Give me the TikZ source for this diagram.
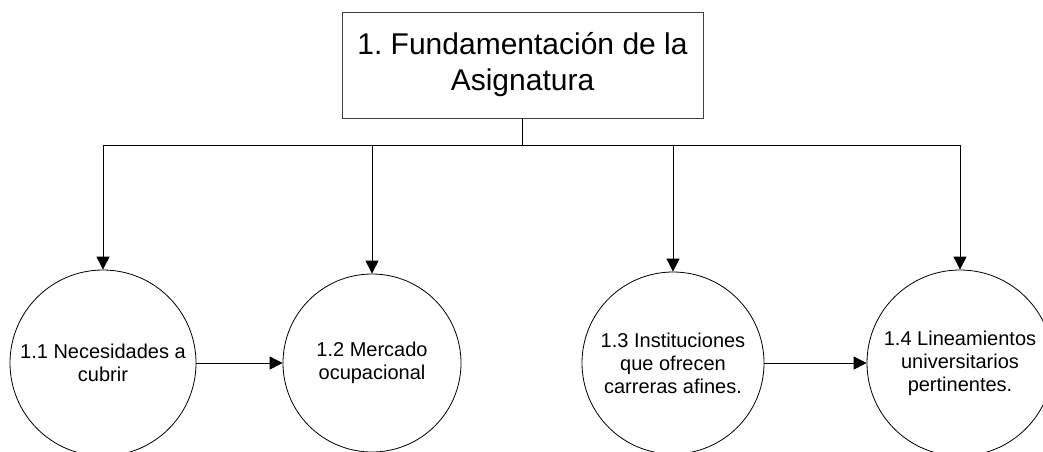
\documentclass[tikz,border=0pt]{standalone}
\usepackage{fontspec}
\setmainfont{Liberation Sans}
\usetikzlibrary{arrows.meta}
\frenchspacing
\begin{document}
\begin{tikzpicture}[x=1pt,y=-1pt,
  conn/.style={draw=black,line width=0.9pt},
  arr/.style={conn,-{Triangle[length=13pt,width=13pt]}},
  topbox/.style={draw=black!75,line width=0.9pt,rectangle,minimum width=361pt,minimum height=106pt,align=center,inner sep=0pt,font=\fontsize{30}{36}\selectfont},
  proc/.style={draw=black,line width=0.8pt,circle,inner sep=0pt,align=center,font=\fontsize{20}{23}\selectfont}]
\useasboundingbox (0,0) rectangle (1043,451);
\clip (0,0) rectangle (1043,451);
\fill[white] (0,0) rectangle (1043,451);
\node[topbox] (top) at (522.5,65) {1. Fundamentación de la\\Asignatura};
\node[proc,minimum size=186pt] (c1) at (103,363) {1.1 Necesidades a\\cubrir};
\node[proc,minimum size=178pt] (c2) at (372,363) {1.2 Mercado\\ocupacional};
\node[proc,minimum size=182pt] (c3) at (673,363) {1.3 Instituciones\\que ofrecen\\carreras afines.};
\node[proc,minimum size=186pt] (c4) at (960,363) {1.4 Lineamientos\\universitarios\\pertinentes.};
\coordinate (bus) at (522.5,145);
\draw[conn] (top.south) -- (bus);
\draw[arr] (bus) -| (c1.north);
\draw[arr] (bus) -| (c2.north);
\draw[arr] (bus) -| (c3.north);
\draw[arr] (bus) -| (c4.north);
\draw[arr] (c1.east) -- (c2.west);
\draw[arr] (c3.east) -- (c4.west);
\end{tikzpicture}
\end{document}
